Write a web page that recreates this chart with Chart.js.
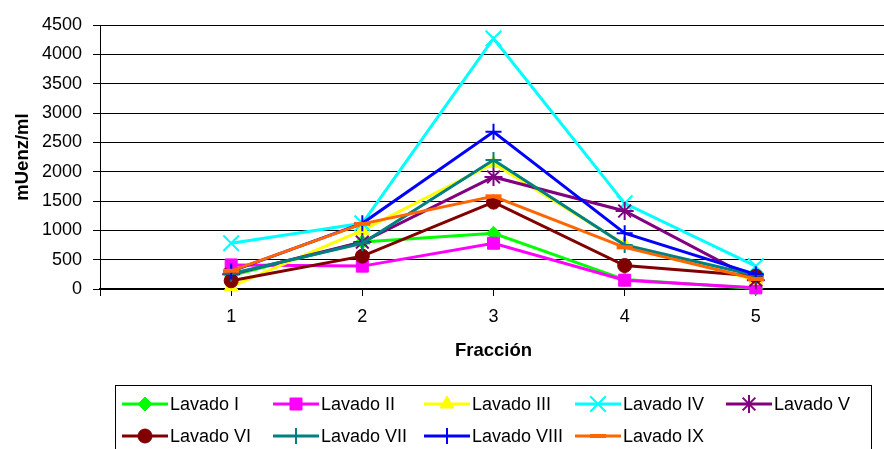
<!DOCTYPE html>
<html>
<head>
<meta charset="utf-8">
<script src="https://cdn.jsdelivr.net/npm/chart.js@4.4.1/dist/chart.umd.min.js"></script>
<style>
  html, body { margin: 0; padding: 0; background: #fff; overflow: hidden; }
  #wrap { position: absolute; left: 0; top: 0; width: 900px; height: 449px; }
</style>
</head>
<body>
<div id="wrap"><canvas id="c" width="900" height="449"></canvas></div>
<script>
// ---- data ----
const fracciones = [1, 2, 3, 4, 5];
const seriesNames = ['Lavado I','Lavado II','Lavado III','Lavado IV','Lavado V','Lavado VI','Lavado VII','Lavado VIII','Lavado IX'];
const lavadoI    = [230, 800, 950, 160, 10];
const lavadoII   = [410, 390, 780, 150, 20];
const lavadoIII  = [40, 1000, 2140, 760, 150];
const lavadoIV   = [780, 1120, 4270, 1460, 390];
const lavadoV    = [250, 800, 1910, 1330, 150];
const lavadoVI   = [140, 560, 1480, 400, 220];
const lavadoVII  = [260, 780, 2200, 750, 230];
const lavadoVIII = [300, 1120, 2680, 950, 250];
const lavadoIX   = [310, 1110, 1580, 710, 170];
const xTickLabels = ['1','2','3','4','5'];
const yTicks = [0, 500, 1000, 1500, 2000, 2500, 3000, 3500, 4000, 4500];

const allValues = [lavadoI, lavadoII, lavadoIII, lavadoIV, lavadoV, lavadoVI, lavadoVII, lavadoVIII, lavadoIX];
const colors = ['#00FF00','#FF00FF','#FFFF00','#00FFFF','#800080','#800000','#008080','#0000FF','#FF6600'];
const styles = [
  {pointStyle:'rectRot', radius:7, bw:1},
  {pointStyle:'rect', radius:8.5, bw:1},
  {pointStyle:'triangle', radius:8, bw:1},
  {pointStyle:'crossRot', radius:11, bw:2},
  {pointStyle:'star', radius:9, bw:2},
  {pointStyle:'circle', radius:7, bw:1},
  {pointStyle:'cross', radius:8, bw:2},
  {pointStyle:'cross', radius:8, bw:2},
  {pointStyle:'line', radius:8, bw:4}
];

const FONT = "'Liberation Sans', Arial, sans-serif";

const datasets = allValues.map((vals, i) => ({
  label: seriesNames[i],
  data: fracciones.map((x, j) => ({x: x, y: vals[j]})),
  borderColor: colors[i],
  backgroundColor: colors[i],
  pointBackgroundColor: colors[i],
  pointBorderColor: colors[i],
  borderWidth: 3,
  pointStyle: styles[i].pointStyle,
  pointRadius: styles[i].radius,
  pointBorderWidth: styles[i].bw,
  tension: 0,
  clip: false,
  order: -i
}));

const legendPlugin = {
  id: 'boxLegend',
  afterDraw(chart) {
    const ctx = chart.ctx;
    ctx.save();
    ctx.strokeStyle = '#000';
    ctx.lineWidth = 1;
    ctx.strokeRect(115.5, 385.5, 756, 80);
    const colW = 151;
    const rows = [404, 436];
    seriesNames.forEach((name, i) => {
      const r = Math.floor(i / 5), c = i % 5;
      const x0 = 122 + colW * c;
      const y = rows[r];
      ctx.strokeStyle = colors[i];
      ctx.lineWidth = 3;
      ctx.beginPath();
      ctx.moveTo(x0, y);
      ctx.lineTo(x0 + 46, y);
      ctx.stroke();
      ctx.fillStyle = colors[i];
      ctx.strokeStyle = colors[i];
      ctx.lineWidth = styles[i].bw;
      Chart.helpers.drawPoint(ctx, {pointStyle: styles[i].pointStyle, radius: styles[i].radius, rotation: 0, borderWidth: styles[i].bw}, x0 + 23, y);
      ctx.fillStyle = '#000';
      ctx.font = '18px ' + FONT;
      ctx.textBaseline = 'middle';
      ctx.textAlign = 'left';
      ctx.fillText(name, x0 + 48, y + 1);
    });
    ctx.restore();
  }
};

new Chart(document.getElementById('c'), {
  type: 'line',
  data: { datasets: datasets },
  plugins: [legendPlugin],
  options: {
    responsive: false,
    animation: false,
    events: [],
    layout: { padding: { left: 0, right: 6, top: 25, bottom: 85 } },
    plugins: { legend: { display: false }, tooltip: { enabled: false } },
    scales: {
      x: {
        type: 'linear',
        min: 0, max: 6,
        afterBuildTicks(scale) {
          scale.ticks = [0,1,2,3,4,5,6].map(v => ({value: v}));
        },
        afterFit(scale) { scale.height = 75; },
        ticks: {
          stepSize: 1,
          autoSkip: false,
          maxRotation: 0,
          padding: 10,
          color: '#000',
          font: { family: FONT, size: 18 },
          callback: (v) => (v >= 1 && v <= 5) ? xTickLabels[v - 1] : ''
        },
        grid: { drawOnChartArea: false, drawTicks: true, tickLength: 7, color: '#000', lineWidth: 1 },
        border: { color: '#000', width: 2 },
        title: { display: true, text: 'Fracción', color: '#000', font: { family: FONT, size: 18.5, weight: 'bold' }, padding: { top: 0, bottom: 2 } }
      },
      y: {
        min: 0, max: 4500,
        afterBuildTicks(scale) { scale.ticks = yTicks.map(v => ({value: v})); },
        afterFit(scale) { scale.width = 100; },
        ticks: {
          padding: 11,
          color: '#000',
          font: { family: FONT, size: 18 },
          callback: (v) => String(v)
        },
        grid: { color: '#000', lineWidth: 1, tickLength: 7, drawTicks: true },
        border: { color: '#000', width: 1 },
        title: { display: true, text: 'mUenz/ml', color: '#000', font: { family: FONT, size: 18.5, weight: 'bold' }, padding: { top: 12, bottom: 0 } }
      }
    }
  }
});
</script>
</body>
</html>
